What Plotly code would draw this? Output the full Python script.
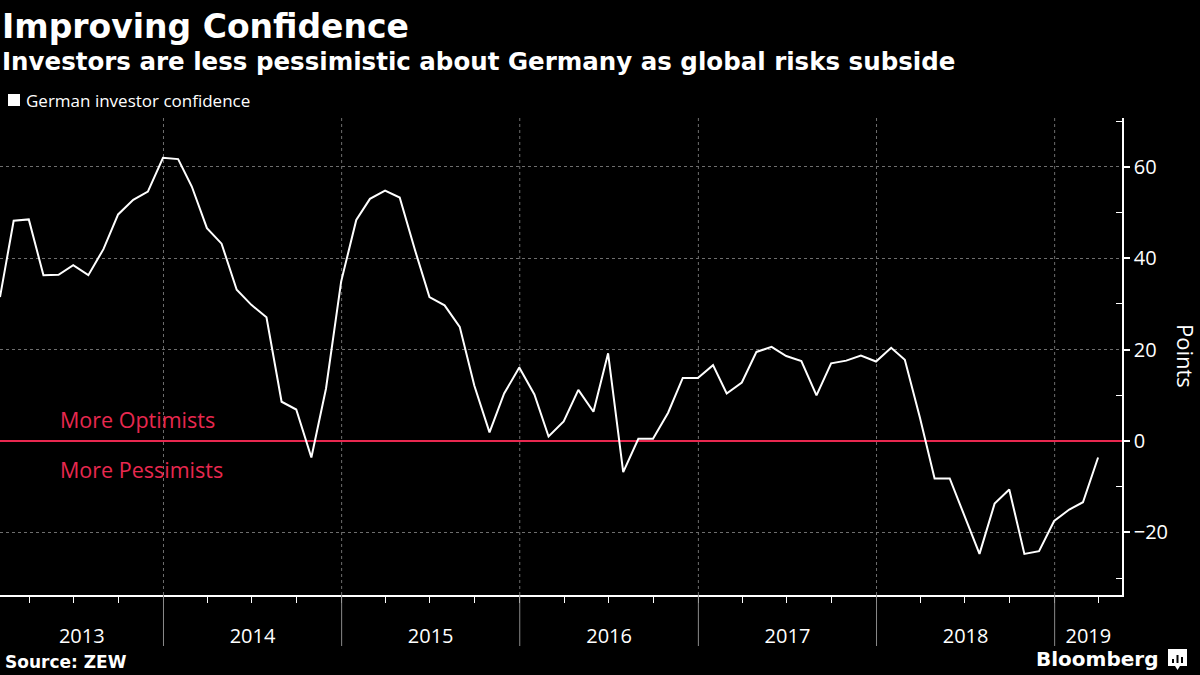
import pandas as pd
import plotly.graph_objects as go

# ---- data ----
months = pd.date_range("2013-01-31", "2019-03-31", freq="ME")
confidence = [
    31.5, 48.2, 48.5, 36.3, 36.4, 38.5, 36.3, 42.0, 49.6, 52.8, 54.6, 62.0,   # 2013
    61.7, 55.7, 46.6, 43.2, 33.1, 29.8, 27.1, 8.6, 6.9, -3.6, 11.5, 34.9,     # 2014
    48.4, 53.0, 54.8, 53.3, 41.9, 31.5, 29.7, 25.0, 12.1, 1.9, 10.4, 16.1,    # 2015
    10.2, 1.0, 4.3, 11.2, 6.4, 19.2, -6.8, 0.5, 0.5, 6.2, 13.8, 13.8,         # 2016
    16.6, 10.4, 12.8, 19.5, 20.6, 18.6, 17.5, 10.0, 17.0, 17.6, 18.7, 17.4,   # 2017
    20.4, 17.8, 5.1, -8.2, -8.2, -16.1, -24.7, -13.7, -10.6, -24.7, -24.1, -17.5,  # 2018
    -15.0, -13.4, -3.6,                                                         # 2019
]
years = [2013, 2014, 2015, 2016, 2017, 2018, 2019]
y_ticks = [-20, 0, 20, 40, 60]
series_name = "German investor confidence"

x_start = pd.Timestamp("2013-01-31")
x_end = pd.Timestamp("2019-05-19")

RED = "#e8284f"
GRID = "#6e6e6e"
REG = "Open Sans"
BOLD = "DejaVu Sans"

# plot area in pixels (for placing texts in paper coordinates)
PL, PR, PT, PB = 0, 1122, 118, 595


def px(x):
    return (x - PL) / (PR - PL)


def py(y):
    return (PB - y) / (PB - PT)


# year label positions: centre of the visible part of each year
label_pos = []
for yr in years:
    a = max(pd.Timestamp(f"{yr}-01-01"), x_start)
    b = min(pd.Timestamp(f"{yr + 1}-01-01"), x_end)
    label_pos.append(a + (b - a) / 2)

fig = go.Figure()
fig.add_trace(go.Scatter(
    x=months, y=confidence, mode="lines", name=series_name,
    line=dict(color="white", width=2),
    showlegend=False, hoverinfo="x+y",
))

shapes = []
for yr in years[1:]:
    d = pd.Timestamp(f"{yr}-01-01")
    shapes.append(dict(type="line", xref="x", yref="paper", x0=d, x1=d, y0=0, y1=1,
                       line=dict(color=GRID, width=1, dash="3px,3px"), layer="below"))
    shapes.append(dict(type="line", xref="x", yref="paper", x0=d, x1=d, y0=0, y1=py(646),
                       line=dict(color="#8a8a8a", width=1)))
# legend swatch
shapes.append(dict(type="rect", xref="paper", yref="paper", x0=px(8), x1=px(20),
                   y0=py(106), y1=py(94), fillcolor="white", line=dict(width=0)))
# Bloomberg icon
shapes.append(dict(type="rect", xref="paper", yref="paper", x0=px(1168), x1=px(1187),
                   y0=py(666), y1=py(649), fillcolor="white", line=dict(width=0)))
shapes.append(dict(type="path", xref="paper", yref="paper",
                   path=f"M {px(1175)},{py(666)} L {px(1177.5)},{py(670)} L {px(1180)},{py(666)} Z",
                   fillcolor="white", line=dict(width=0)))
for bx0, btop in [(1172, 659), (1176.5, 655), (1181, 657)]:
    shapes.append(dict(type="rect", xref="paper", yref="paper", x0=px(bx0), x1=px(bx0 + 2),
                       y0=py(663), y1=py(btop), fillcolor="black", line=dict(width=0)))

fig.update_layout(
    width=1200, height=675,
    paper_bgcolor="black", plot_bgcolor="black",
    margin=dict(l=PL, r=1200 - PR, t=PT, b=675 - PB, autoexpand=False),
    font=dict(family=REG, color="white", size=18),
    shapes=shapes,
    showlegend=False,
    xaxis=dict(
        range=[x_start, x_end], type="date",
        tickmode="array", tickvals=label_pos, ticktext=[str(y) for y in years],
        ticks="", ticklabelstandoff=22, tickfont=dict(size=20, family=REG),
        showgrid=False, showline=True, linecolor="white", linewidth=1.5,
        zeroline=False,
        minor=dict(ticks="outside", ticklen=6, tickcolor="white", tickwidth=1,
                   dtick="M3", tick0="2013-01-01", showgrid=False),
    ),
    yaxis=dict(
        range=[-33.7, 70.7], side="right",
        tickmode="array", tickvals=y_ticks,
        ticks="outside", ticklen=6, tickwidth=2, tickcolor="white",
        tickfont=dict(size=20, family=REG),
        showgrid=True, gridcolor=GRID, griddash="3px,3px", gridwidth=1,
        showline=True, linecolor="white", linewidth=1.5,
        zeroline=True, zerolinecolor=RED, zerolinewidth=2,
        minor=dict(ticks="inside", ticklen=6, tickcolor="white", tickwidth=1,
                   tickmode="array", tickvals=[-30, -10, 10, 30, 50, 70], showgrid=False),
    ),
    annotations=[
        dict(text="<b>Improving Confidence</b>", xref="paper", yref="paper",
             x=px(0), y=py(5), xanchor="left", yanchor="top", showarrow=False,
             font=dict(family=BOLD, size=33, color="white")),
        dict(text="<b>Investors are less pessimistic about Germany as global risks subside</b>",
             xref="paper", yref="paper", x=px(0), y=py(45), xanchor="left", yanchor="top",
             showarrow=False, font=dict(family=BOLD, size=24.5, color="white")),
        dict(text=series_name, xref="paper", yref="paper", x=px(24), y=py(100),
             xanchor="left", yanchor="middle", showarrow=False,
             font=dict(family=REG, size=17, color="white")),
        dict(text="More Optimists", xref="paper", yref="y", x=px(58), y=0, yshift=22,
             xanchor="left", yanchor="middle", showarrow=False,
             font=dict(family=REG, size=21.5, color=RED)),
        dict(text="More Pessimists", xref="paper", yref="y", x=px(58), y=0, yshift=-28,
             xanchor="left", yanchor="middle", showarrow=False,
             font=dict(family=REG, size=21.5, color=RED)),
        dict(text="Points", xref="paper", yref="paper", x=px(1186), y=py(356),
             xanchor="center", yanchor="middle", textangle=90, showarrow=False,
             font=dict(family=REG, size=22, color="white")),
        dict(text="<b>Source: ZEW</b>", xref="paper", yref="paper", x=px(3), y=py(662),
             xanchor="left", yanchor="middle", showarrow=False,
             font=dict(family=BOLD, size=17, color="white")),
        dict(text="<b>Bloomberg</b>", xref="paper", yref="paper", x=px(1160), y=py(659),
             xanchor="right", yanchor="middle", showarrow=False,
             font=dict(family=BOLD, size=20, color="white")),
    ],
)

fig.write_html("out.html", config={"displayModeBar": False},
               post_script="document.body.style.margin='0';document.body.style.background='black';")
